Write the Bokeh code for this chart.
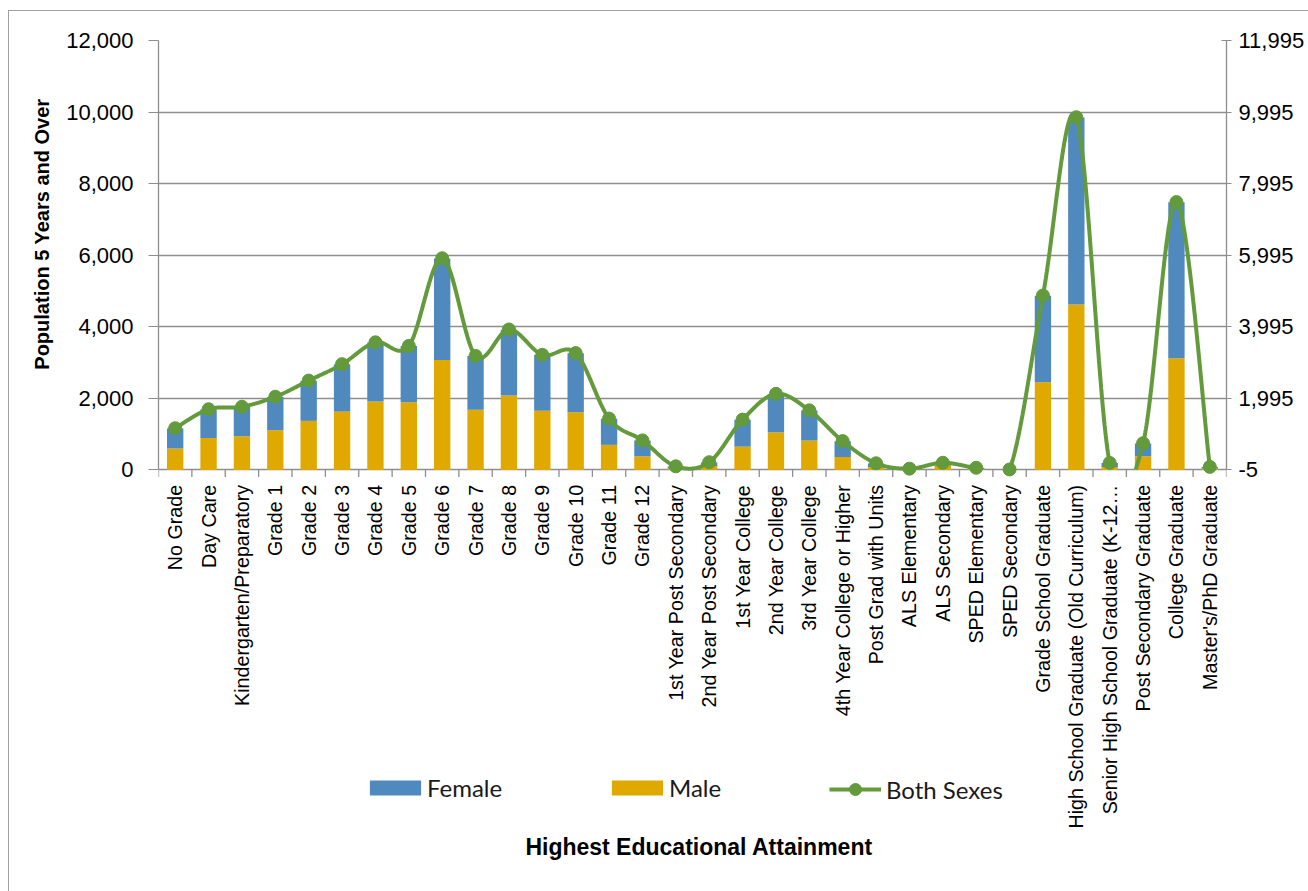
import numpy as np
from bokeh.plotting import figure
from bokeh.models import (Range1d, LinearAxis, FixedTicker, NumeralTickFormatter,
                          Legend, LegendItem, ColumnDataSource, Label, Title)
from bokeh.core.properties import value
from bokeh.embed import file_html
from bokeh.resources import INLINE

# Highest educational attainment, population 5 years and over
categories = [
    "No Grade", "Day Care", "Kindergarten/Preparatory",
    "Grade 1", "Grade 2", "Grade 3", "Grade 4", "Grade 5", "Grade 6",
    "Grade 7", "Grade 8", "Grade 9", "Grade 10", "Grade 11", "Grade 12",
    "1st Year Post Secondary", "2nd Year Post Secondary",
    "1st Year College", "2nd Year College", "3rd Year College",
    "4th Year College or Higher", "Post Grad with Units",
    "ALS Elementary", "ALS Secondary", "SPED Elementary", "SPED Secondary",
    "Grade School Graduate", "High School Graduate (Old Curriculum)",
    "Senior High School Graduate (K-12\u2026", "Post Secondary Graduate",
    "College Graduate", "Master's/PhD Graduate",
]
male = [600, 890, 940, 1110, 1370, 1630, 1910, 1890, 3070, 1680, 2080, 1650, 1610,
        700, 380, 45, 110, 650, 1050, 820, 360, 75, 15, 120, 25, 4,
        2450, 4620, 80, 380, 3120, 40]
female = [560, 800, 820, 930, 1120, 1320, 1650, 1570, 2840, 1500, 1840, 1560, 1650,
          730, 440, 50, 100, 750, 1070, 840, 440, 105, 15, 75, 30, 4,
          2420, 5230, 110, 360, 4360, 40]
left_ticks = [0, 2000, 4000, 6000, 8000, 10000, 12000]
right_ticks = [-5, 1995, 3995, 5995, 7995, 9995, 11995]

both = [m + f for m, f in zip(male, female)]
n = len(categories)
centers = np.arange(n) + 0.5          # slot centre of each category
edges = np.arange(n + 1)              # slot boundaries, where the ticks sit

BLUE = "#4F89BD"
GOLD = "#E0A900"
GREEN = "#629A3C"
GRID = "#8E8E8E"
FONT = "Liberation Sans"

# The frame runs down to the bottom of the page so that the category names,
# the legend and the axis title can all sit in it; the value scale only
# occupies the upper CHART_H pixels.
FRAME_H = 852
CHART_H = 429.4
span = left_ticks[-1] - left_ticks[0]
per_px = span / CHART_H                       # data units per pixel
y_lo = left_ticks[0] - (FRAME_H - CHART_H) * per_px
r_lo = right_ticks[0] - (FRAME_H - CHART_H) * per_px


def smooth_curve(xs, ys, steps=60):
    """Bezier path through the points, tangents from neighbouring points."""
    xs = np.asarray(xs, float)
    ys = np.asarray(ys, float)
    px = np.concatenate([[xs[0]], xs, [xs[-1]]])
    py = np.concatenate([[ys[0]], ys, [ys[-1]]])
    t = np.linspace(0.0, 1.0, steps)
    out_x, out_y = [], []
    for i in range(len(xs) - 1):
        x0, x1, x2, x3 = px[i:i + 4]
        y0, y1, y2, y3 = py[i:i + 4]
        cx1, cy1 = x1 + (x2 - x0) / 6, y1 + (y2 - y0) / 6
        cx2, cy2 = x2 - (x3 - x1) / 6, y2 - (y3 - y1) / 6
        a, b, c, d = (1 - t) ** 3, 3 * (1 - t) ** 2 * t, 3 * (1 - t) * t ** 2, t ** 3
        out_x.append(a * x1 + b * cx1 + c * cx2 + d * x2)
        out_y.append(a * y1 + b * cy1 + c * cy2 + d * y2)
    return np.concatenate(out_x), np.concatenate(out_y)


p = figure(
    x_range=Range1d(0, n),
    y_range=Range1d(y_lo, left_ticks[-1]),
    frame_width=1068, frame_height=FRAME_H,
    min_border_left=149, min_border_top=29, min_border_right=83, min_border_bottom=0,
    x_axis_location=None,
    output_backend="svg", toolbar_location=None,
    background_fill_color="white", border_fill_color="white",
    outline_line_color=None,
    margin=(10, 0, 0, 8),
)
p.styles = {"border-left": "1.5px solid #A0A0A0", "border-top": "1.5px solid #A0A0A0"}
p.extra_y_ranges = {"both": Range1d(r_lo, right_ticks[-1])}
p.xgrid.grid_line_color = None

# stacked bars: male at the bottom, female on top
src = ColumnDataSource(dict(x=centers, male=male, female=female, both=both))
bars = p.vbar_stack(["male", "female"], x="x", width=0.49, source=src,
                    fill_color=[GOLD, BLUE], line_color=None)

# both sexes on the secondary axis, drawn as a smoothed line with markers;
# the part of the curve that swings below the axis floor is left out
cx, cy = smooth_curve(centers, both)
cy = np.where(cy < right_ticks[0], np.nan, cy)
line_r = p.line(cx, cy, y_range_name="both", line_color=GREEN, line_width=4)
dot_r = p.scatter(x="x", y="both", source=src, y_range_name="both",
                  size=13, fill_color=GREEN, line_color=GREEN)

# left axis
yax = p.yaxis[0]
yax.bounds = (left_ticks[0], left_ticks[-1])
yax.ticker = FixedTicker(ticks=left_ticks)
yax.formatter = NumeralTickFormatter(format="0,0")
yax.major_label_text_font = FONT
yax.major_label_text_font_size = "22px"
yax.major_label_text_color = "black"
yax.major_label_standoff = 15
yax.major_tick_out = 10
yax.major_tick_in = 0
yax.minor_tick_line_color = None
yax.axis_line_color = GRID
yax.axis_line_width = 1.3
yax.major_tick_line_color = GRID

# value-axis title, placed beside the value scale rather than the whole frame
p.add_layout(Title(text="Population 5 Years and Over", align="right",
                   offset=58, standoff=22,
                   text_font=FONT, text_font_style="bold", text_font_size="20px",
                   text_color="black"), "left")

p.ygrid.ticker = FixedTicker(ticks=left_ticks)
p.ygrid.grid_line_color = GRID
p.ygrid.grid_line_width = 1.3

# right axis
rax = LinearAxis(y_range_name="both", ticker=FixedTicker(ticks=right_ticks),
                 formatter=NumeralTickFormatter(format="0,0"),
                 bounds=(right_ticks[0], right_ticks[-1]))
rax.major_label_text_font = FONT
rax.major_label_text_font_size = "22px"
rax.major_label_text_color = "black"
rax.major_label_standoff = 7
rax.major_tick_in = 5
rax.major_tick_out = 5
rax.minor_tick_line_color = None
rax.axis_line_color = GRID
rax.axis_line_width = 1.3
rax.major_tick_line_color = GRID
p.add_layout(rax, "right")

# category axis: tick marks between the slots, names read upwards
p.segment(x0=edges, y0=left_ticks[0], x1=edges, y1=left_ticks[0] - 7 * per_px,
          line_color=GRID, line_width=1.3)
p.text(x=centers, y=left_ticks[0] - 15 * per_px, text=categories, angle=np.pi / 2,
       text_align="right", text_baseline="middle",
       text_font=value(FONT), text_font_size="19.7px", text_color="black")

title = Label(x=n / 2 + 0.2, y=left_ticks[0] - 377 * per_px,
              text="Highest Educational Attainment",
              text_align="center", text_baseline="middle",
              text_font=FONT, text_font_style="bold", text_font_size="23px",
              text_color="black")
p.add_layout(title)


def legend_at(item, x, y, gw, gh, standoff):
    leg = Legend(items=[item], location=(x, y), orientation="horizontal",
                 glyph_width=gw, glyph_height=gh, label_standoff=standoff,
                 padding=0, margin=0, spacing=0,
                 background_fill_alpha=0, border_line_color=None,
                 label_text_font="Lato", label_text_font_size="24px",
                 label_text_color="#1A1A1A")
    p.add_layout(leg, "center")


legend_at(LegendItem(label="Female", renderers=[bars[1]]), 205, 90, 64, 19, 0)
legend_at(LegendItem(label="Male", renderers=[bars[0]]), 447, 90, 64, 19, 0)
legend_at(LegendItem(label="Both Sexes", renderers=[line_r, dot_r]), 671, 88, 52, 30, 5)

open("out.html", "w").write(file_html(p, INLINE))
